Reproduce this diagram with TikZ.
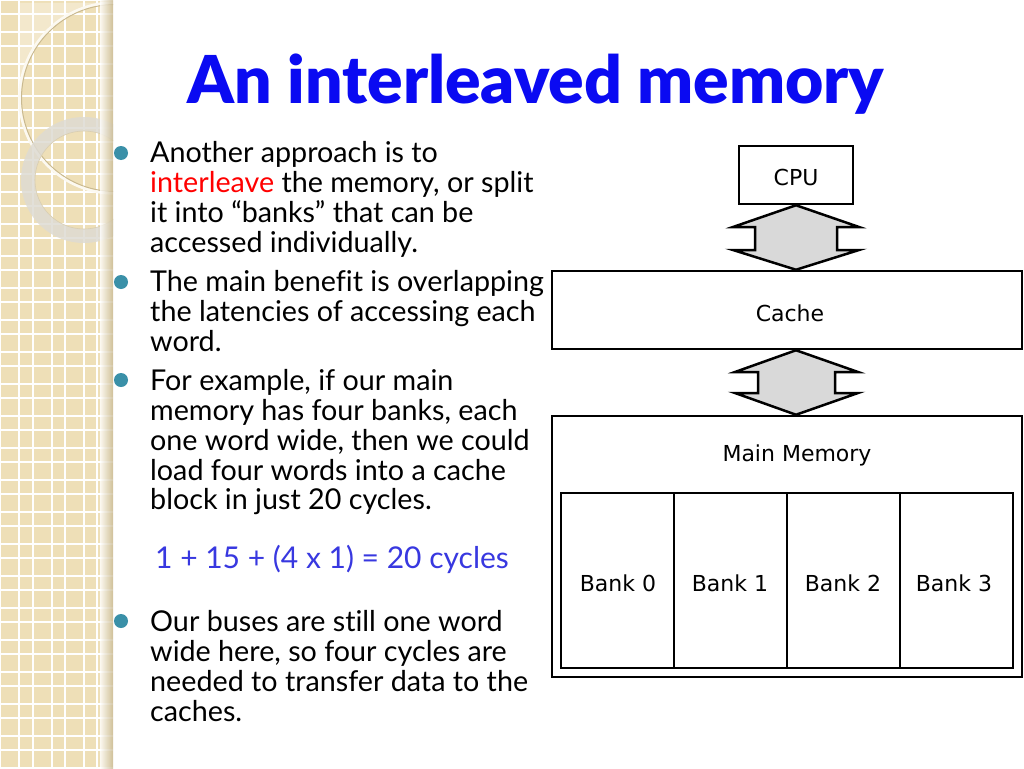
\documentclass[tikz,border=0pt]{standalone}
\usepackage{fontspec}
\setmainfont{Lato}[Ligatures=NoCommon]
\newfontfamily\titlefont{Lato Black}[Ligatures=NoCommon]
\newfontfamily\diagfont{DejaVu Sans}
\definecolor{panelbg}{HTML}{EEDFB7}
\definecolor{panelshade}{HTML}{C9B990}
\definecolor{bulletteal}{HTML}{3A90A8}
\definecolor{titleblue}{HTML}{0A0AF2}
\definecolor{formulablue}{HTML}{3838E0}
\definecolor{arrowfill}{HTML}{D9D9D9}
\definecolor{ringgray}{HTML}{DEDBD3}
\tikzset{
  bodyline/.style={anchor=base west, inner sep=0pt, font=\fontsize{28.7}{30}\selectfont},
  bulletdot/.style={circle, fill=bulletteal, minimum size=14pt, inner sep=0pt},
  blockbox/.style={draw=black, line width=2.5pt, inner sep=0pt, font=\diagfont\fontsize{22}{26}\selectfont},
  bankbox/.style={draw=black, line width=2.5pt, minimum width=113pt, minimum height=175pt, inner sep=0pt},
  banklabel/.style={inner sep=0pt, font=\diagfont\fontsize{22}{26}\selectfont},
  busarrow/.style={draw=black, line width=2.5pt, fill=arrowfill, line join=miter}
}
\begin{document}
\begin{tikzpicture}[x=1pt, y=-1pt]
\useasboundingbox (0,0) rectangle (1024,768);
\fill[white] (0,0) rectangle (1024,768);
% left decorative panel
\begin{scope}
  \clip (0,0) rectangle (113,768);
  \fill[panelbg] (0,0) rectangle (113,768);
  \foreach \gx in {0,19,33,52,65,84,97} {
    \draw[white, line width=1.2pt] (\gx,0) -- (\gx,768);
  }
  \foreach \gy in {0,14,32,46,64,78,96,110,128,142,160,174,192,206,224,238,256,270,288,302,320,334,352,366,384,398,416,430,448,462,480,494,512,526,544,558,576,590,608,622,640,654,672,686,704,718,736,750,768} {
    \draw[white, line width=1.2pt] (0,\gy) -- (113,\gy);
  }
  \fill[white, opacity=0.3] (20,98) arc (180:270:95) -- (20,3) -- cycle;
  \draw[panelshade, line width=1pt] (115,98) circle (93.5);
  \draw[white!80!panelbg, line width=2.5pt] (115,98) circle (95.5);
  \fill[ringgray, opacity=0.85, even odd rule] (84,180) circle (63) (84,180) circle (49);
  \draw[panelshade!70, line width=0.6pt] (84,180) circle (49);
  \shade[left color=panelbg!0, right color=panelshade, opacity=0.8] (100,0) rectangle (113,768);
\end{scope}
% title
\node[anchor=base, inner sep=0pt, text=titleblue, font=\titlefont\fontsize{66}{68}\selectfont] (title) at (536,103) {An interleaved memory};
% bullets
\node[bulletdot] (b1) at (121,153) {};
\node[bulletdot] (b2) at (121,282) {};
\node[bulletdot] (b3) at (121,380) {};
\node[bulletdot] (b4) at (121,621) {};
\node[bodyline] (l1) at (150,162) {Another approach is to};
\node[bodyline] (l2) at (150,192) {\textcolor{red}{interleave} the memory, or split};
\node[bodyline] (l3) at (150,222) {it into “banks” that can be};
\node[bodyline] (l4) at (150,252) {accessed individually.};
\node[bodyline] (l5) at (150,291) {The main benefit is overlapping};
\node[bodyline] (l6) at (150,321) {the latencies of accessing each};
\node[bodyline] (l7) at (150,351) {word.};
\node[bodyline] (l8) at (150,390) {For example, if our main};
\node[bodyline] (l9) at (150,420) {memory has four banks, each};
\node[bodyline] (l10) at (150,450) {one word wide, then we could};
\node[bodyline] (l11) at (150,480) {load four words into a cache};
\node[bodyline] (l12) at (150,509) {block in just 20 cycles.};
\node[bodyline, text=formulablue, font=\fontsize{30}{30}\selectfont] (formula) at (155,568) {1 + 15 + (4 x 1) = 20 cycles};
\node[bodyline] (l13) at (150,631) {Our buses are still one word};
\node[bodyline] (l14) at (150,661) {wide here, so four cycles are};
\node[bodyline] (l15) at (150,691) {needed to transfer data to the};
\node[bodyline] (l16) at (150,721) {caches.};
% diagram
\node[blockbox, minimum width=114pt, minimum height=58pt] (cpu) at (796,175) {};
\node[banklabel] (cpulabel) at (796,177) {CPU};
\node[blockbox, minimum width=470pt, minimum height=78pt] (cache) at (787,310) {};
\node[banklabel] (cachelabel) at (790,313) {Cache};
\node[blockbox, minimum width=470pt, minimum height=261pt] (mem) at (787,546.5) {};
\node[banklabel] (memlabel) at (797,455) {Main Memory};
\node[bankbox] (bank0) at (617.5,580.5) {};
\node[bankbox] (bank1) at (730.5,580.5) {};
\node[bankbox] (bank2) at (843.5,580.5) {};
\node[bankbox] (bank3) at (956.5,580.5) {};
\node[banklabel] at (618,583) {Bank 0};
\node[banklabel] at (730,583) {Bank 1};
\node[banklabel] at (843,583) {Bank 2};
\node[banklabel] at (954,583) {Bank 3};
% bus arrows
\coordinate (a1t) at (cpu.south);
\coordinate (a1b) at (cpu.south |- cache.north);
\draw[busarrow] (a1t) -- (859,227) -- (837,227) -- (837,250) -- (859,250) -- (a1b)
  -- (733,250) -- (755,250) -- (755,227) -- (733,227) -- cycle;
\coordinate (a2t) at (cpu.south |- cache.south);
\coordinate (a2b) at (cpu.south |- mem.north);
\draw[busarrow] (a2t) -- (858,372) -- (835,372) -- (835,393) -- (858,393) -- (a2b)
  -- (735,393) -- (758,393) -- (758,372) -- (735,372) -- cycle;
\end{tikzpicture}
\end{document}
